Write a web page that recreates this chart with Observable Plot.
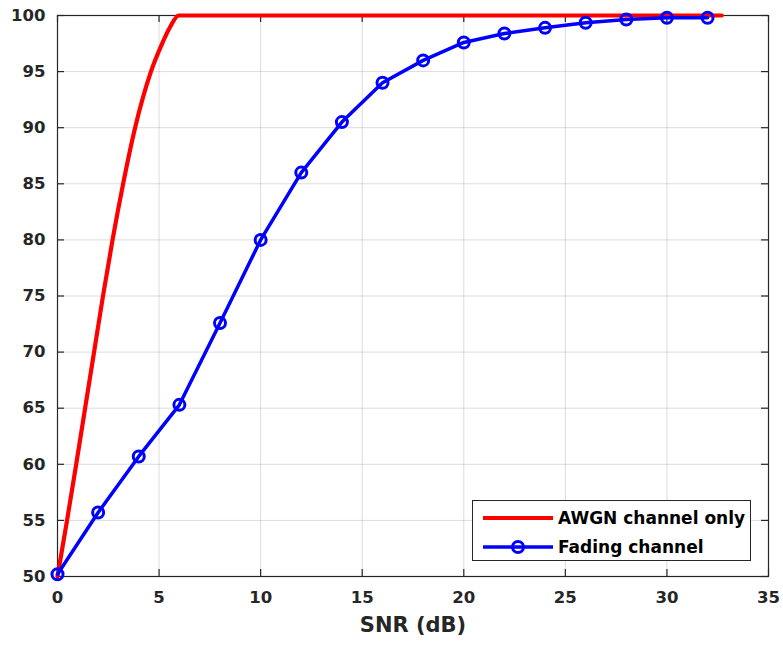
<!DOCTYPE html>
<html>
<head>
<meta charset="utf-8">
<script src="https://cdn.jsdelivr.net/npm/d3@7"></script>
<script src="https://cdn.jsdelivr.net/npm/@observablehq/plot@0.6"></script>
<style>
  html, body { margin: 0; padding: 0; background: #fff; }
  #wrap { position: relative; width: 783px; height: 649px; }
  #legend {
    position: absolute; left: 472px; top: 500px; width: 279px; height: 61px;
    border: 1px solid #262626; background: #fff; box-sizing: border-box;
    font-family: "DejaVu Sans", sans-serif; font-weight: bold; font-size: 17px; color: #000;
  }
  .row { position: absolute; left: 0; height: 20px; display: flex; align-items: center; }
  .row svg { display: block; margin-left: 10px; }
  .row span { margin-left: 5px; white-space: nowrap; }
</style>
</head>
<body>
<div id="wrap"></div>
<script>
// AWGN channel only (red curve)
const awgnSnr = [0, 0.47, 0.92, 1.36, 1.8, 2.24, 2.71, 3.23, 3.82, 4.6, 5.15, 5.55, 5.97, 32.7];
const awgnAcc = [50, 55, 60, 65, 70, 75, 80, 85, 90, 95, 97.5, 99, 100, 100];
// Fading channel (blue, markers)
const fadingSnr = [0, 2, 4, 6, 8, 10, 12, 14, 16, 18, 20, 22, 24, 26, 28, 30, 32];
const fadingAcc = [50.2, 55.7, 60.7, 65.3, 72.6, 80.0, 86.0, 90.5, 94.0, 96.0, 97.6, 98.4, 98.9, 99.35, 99.65, 99.8, 99.8];
// ticks
const xTicks = [0, 5, 10, 15, 20, 25, 30, 35];
const yTicks = [50, 55, 60, 65, 70, 75, 80, 85, 90, 95, 100];
const seriesNames = ["AWGN channel only", "Fading channel"];
const xLabel = "SNR (dB)";

const awgn = awgnSnr.map((x, i) => ({x, y: awgnAcc[i]}));
const fading = fadingSnr.map((x, i) => ({x, y: fadingAcc[i]}));

const axisColor = "#262626";
const chart = Plot.plot({
  width: 783,
  height: 649,
  marginLeft: 57,
  marginTop: 15,
  marginRight: 15,
  marginBottom: 73,
  style: {fontFamily: "'DejaVu Sans', sans-serif", fontSize: "16px", fontWeight: "bold", background: "#fff"},
  x: {domain: [0, 35]},
  y: {domain: [50, 100]},
  marks: [
    Plot.ruleX(xTicks, {x: d => d, stroke: "#000", strokeOpacity: 0.14}),
    Plot.ruleY(yTicks, {y: d => d, stroke: "#000", strokeOpacity: 0.14}),
    Plot.frame({stroke: axisColor, strokeWidth: 1.2}),
    Plot.ruleY(yTicks, {y: d => d, x1: 0, x2: 0, insetRight: -7, stroke: axisColor, strokeWidth: 1.2}),
    Plot.ruleY(yTicks, {y: d => d, x1: 35, x2: 35, insetLeft: -7, stroke: axisColor, strokeWidth: 1.2}),
    Plot.ruleX(xTicks, {x: d => d, y1: 50, y2: 50, insetBottom: 7, stroke: axisColor, strokeWidth: 1.2}),
    Plot.ruleX(xTicks, {x: d => d, y1: 100, y2: 100, insetTop: 7, stroke: axisColor, strokeWidth: 1.2}),
    Plot.axisX(xTicks, {tickSize: 0, tickPadding: 15, label: null, color: axisColor, fontSize: 16.5, fontWeight: "bold"}),
    Plot.axisY(yTicks, {tickSize: 0, tickPadding: 12, label: null, color: axisColor, fontSize: 16.5, fontWeight: "bold"}),
    Plot.text([xLabel], {frameAnchor: "bottom", dy: 55, text: d => d, fontSize: 21, fontWeight: "bold", fill: axisColor}),
    Plot.line(awgn, {x: "x", y: "y", stroke: "#ff0000", strokeWidth: 4.2, curve: "monotone-x"}),
    Plot.line(fading, {x: "x", y: "y", stroke: "#0000ff", strokeWidth: 3.5}),
    Plot.dot(fading, {x: "x", y: "y", r: 5.5, stroke: "#0000ff", strokeWidth: 3, fill: "none"})
  ]
});
const wrap = document.getElementById("wrap");
wrap.appendChild(chart);

// legend inside the axes (bottom right)
const legend = document.createElement("div");
legend.id = "legend";
const rows = [
  {name: seriesNames[0], color: "#ff0000", marker: false, top: 7},
  {name: seriesNames[1], color: "#0000ff", marker: true, top: 36}
];
for (const r of rows) {
  const row = document.createElement("div");
  row.className = "row";
  row.style.top = r.top + "px";
  const s = d3.create("svg").attr("width", 70).attr("height", 20);
  s.append("line").attr("x1", 0).attr("x2", 70).attr("y1", 10).attr("y2", 10)
    .attr("stroke", r.color).attr("stroke-width", r.marker ? 3.5 : 4);
  if (r.marker) s.append("circle").attr("cx", 35).attr("cy", 10).attr("r", 5.5)
    .attr("fill", "none").attr("stroke", r.color).attr("stroke-width", 3);
  row.appendChild(s.node());
  const t = document.createElement("span");
  t.textContent = r.name;
  row.appendChild(t);
  legend.appendChild(row);
}
wrap.appendChild(legend);
</script>
</body>
</html>
